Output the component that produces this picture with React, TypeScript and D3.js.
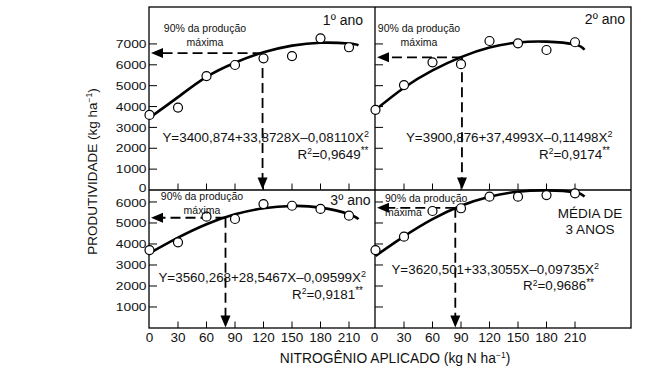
import React from "react";
import * as d3 from "d3";

// ---------- data ----------
const nRates = [0, 30, 60, 90, 120, 150, 180, 210];
const year1Yield = [3600, 3950, 5460, 5990, 6310, 6420, 7270, 6840];
const year2Yield = [3840, 5030, 6120, 6030, 7140, 7030, 6710, 7080];
const year3Yield = [3710, 4080, 5300, 5190, 5900, 5820, 5670, 5350];
const meanYield = [3710, 4350, 5570, 5700, 6250, 6250, 6330, 6410];

const curveN = [0, 30, 60, 90, 120, 150, 180, 210, 220];
const year1Curve = [3460, 4450, 5420, 6100, 6600, 6920, 7060, 7020, 6940];
const year2Curve = [3840, 4900, 5730, 6370, 6830, 7070, 7110, 6970, 6720];
const year3Curve = [3560, 4300, 4940, 5410, 5700, 5810, 5730, 5420, 5180];
const meanCurve = [3430, 4360, 5180, 5820, 6250, 6490, 6550, 6460, 6250];

const arrowN = [119, 91, 80, 84];
const arrowYield = [6560, 6360, 5250, 5720];

const equations = [
  "Y=3400,874+33,8728X–0,08110X",
  "Y=3900,876+37,4993X–0,11498X",
  "Y=3560,268+28,5467X–0,09599X",
  "Y=3620,501+33,3055X–0,09735X",
];
const r2Values = ["=0,9649", "=0,9174", "=0,9181", "=0,9686"];
const panelTitles = [["1º ano"], ["2º ano"], ["3º ano"], ["MÉDIA DE", "3 ANOS"]];
const noteLines = ["90% da produção", "máxima"];
const xTicks = [0, 30, 60, 90, 120, 150, 180, 210];
const yTicksTop = [0, 1000, 2000, 3000, 4000, 5000, 6000, 7000];
const yTicksBottom = [1000, 2000, 3000, 4000, 5000, 6000];
const yTitle = "PRODUTIVIDADE (kg ha";
const xTitle = "NITROGÊNIO APLICADO (kg N ha";

// ---------- layout ----------
const W = 647;
const H = 368;
const FONT = "'Liberation Sans', Arial, Helvetica, sans-serif";
const L = 149, M = 375, R = 631, T = 7, MID = 190, B = 328;

const colCfg = [
  { x0: 149.5, x1: 375, max: (375 - 149.5) / 0.95 },
  { x0: 375.5, x1: 631, max: (631 - 375.5) / 0.95 },
];
const rowCfg = [
  { y0: 190, y1: 7, max: 8770 },
  { y0: 328, y1: 190, max: 6570 },
];

const layout = [
  { col: 0, row: 0, eqX: 369, eqY: 142, r2X: 368.5, r2Y: 158, noteX: 205, noteY: 32, noteAnchor: "middle", titleX: 363, titleY: 25, titleAnchor: "end" },
  { col: 1, row: 0, eqX: 612.5, eqY: 142, r2X: 610, r2Y: 158, noteX: 419, noteY: 32, noteAnchor: "middle", titleX: 625, titleY: 24, titleAnchor: "end" },
  { col: 0, row: 1, eqX: 366, eqY: 282, r2X: 363, r2Y: 298, noteX: 202, noteY: 200, noteAnchor: "middle", titleX: 370.5, titleY: 205, titleAnchor: "end" },
  { col: 1, row: 1, eqX: 599, eqY: 273.5, r2X: 594, r2Y: 289.5, noteX: 385, noteY: 201.5, noteAnchor: "start", titleX: 590, titleY: 218, titleAnchor: "middle" },
];

const obsSeries = [year1Yield, year2Yield, year3Yield, meanYield];
const fitSeries = [year1Curve, year2Curve, year3Curve, meanCurve];

function Panel({ i }: { i: number }) {
  const lay = layout[i];
  const c = colCfg[lay.col];
  const r = rowCfg[lay.row];
  const x = d3.scaleLinear().domain([0, c.max]).range([c.x0, c.x1]);
  const y = d3.scaleLinear().domain([0, r.max]).range([r.y0, r.y1]);
  const line = d3
    .line<number>()
    .x((_, k) => x(curveN[k]))
    .y((d) => y(d))
    .curve(d3.curveNatural);
  const yTicks = lay.row === 0 ? yTicksTop.filter((t) => t > 0) : yTicksBottom;
  const axisX = lay.col === 0 ? L : M;
  const ax = x(arrowN[i]);
  const ay = y(arrowYield[i]);
  const tipX = axisX + 2;
  const tipY = r.y0 - 0.5;
  const ah = 12, aw = 5;
  return (
    <g>
      {yTicks.map((t) => (
        <line key={"yt" + t} x1={axisX} x2={axisX + 8} y1={y(t)} y2={y(t)} stroke="#000" strokeWidth={1} />
      ))}
      {xTicks.filter((t) => t > 0).map((t) => (
        <line key={"xt" + t} x1={x(t)} x2={x(t)} y1={r.y0} y2={r.y0 - 6.5} stroke="#000" strokeWidth={1} />
      ))}
      <line x1={ax} y1={ay} x2={tipX + ah - 1} y2={ay} stroke="#000" strokeWidth={1.8} strokeDasharray="10,5" />
      <line x1={ax} y1={ay} x2={ax} y2={tipY - ah + 1} stroke="#000" strokeWidth={1.8} strokeDasharray="10,5" />
      <path d={`M${tipX},${ay} L${tipX + ah},${ay - aw} L${tipX + ah},${ay + aw} Z`} fill="#000" />
      <path d={`M${ax},${tipY} L${ax - aw},${tipY - ah} L${ax + aw},${tipY - ah} Z`} fill="#000" />
      <path d={line(fitSeries[i]) || ""} fill="none" stroke="#000" strokeWidth={2.6} />
      {obsSeries[i].map((v, k) => (
        <circle key={"c" + k} cx={x(nRates[k])} cy={y(v)} r={4.5} fill="#fff" stroke="#000" strokeWidth={1.2} />
      ))}
      <text fontFamily={FONT} fontSize={10.5} fill="#111" textAnchor={lay.noteAnchor as any}>
        <tspan x={lay.noteX} y={lay.noteY}>{noteLines[0]}</tspan>
        <tspan x={lay.noteX} y={lay.noteY + 14}>{noteLines[1]}</tspan>
      </text>
      <text fontFamily={FONT} fontSize={i === 3 ? 13.5 : 14} fill="#111" textAnchor={lay.titleAnchor as any}>
        {panelTitles[i].map((s, k) => (
          <tspan key={k} x={lay.titleX} y={lay.titleY + k * 16}>{s}</tspan>
        ))}
      </text>
      <text x={lay.eqX} y={lay.eqY} fontFamily={FONT} fontSize={13.4} fill="#111" textAnchor="end">
        {equations[i]}
        <tspan dy={-5} fontSize={9}>2</tspan>
      </text>
      <text x={lay.r2X} y={lay.r2Y + 0.5} fontFamily={FONT} fontSize={13.4} fill="#111" textAnchor="end">
        R<tspan dy={-4.5} fontSize={8.5}>2</tspan>
        <tspan dy={4.5}>{r2Values[i]}</tspan>
        <tspan dy={-4.5} fontSize={10}>**</tspan>
      </text>
    </g>
  );
}

export default function App() {
  const yTop = d3.scaleLinear().domain([0, rowCfg[0].max]).range([rowCfg[0].y0, rowCfg[0].y1]);
  const yBot = d3.scaleLinear().domain([0, rowCfg[1].max]).range([rowCfg[1].y0, rowCfg[1].y1]);
  const xs = colCfg.map((c) => d3.scaleLinear().domain([0, c.max]).range([c.x0, c.x1]));
  return (
    <svg width={W} height={H} style={{ position: "absolute", left: 0, top: 0, background: "#fff" }}>
      <rect x={0} y={0} width={W} height={H} fill="#fff" />
      <rect x={L} y={T} width={R - L} height={B - T} fill="none" stroke="#000" strokeWidth={1.3} />
      <line x1={M} x2={M} y1={T} y2={B} stroke="#000" strokeWidth={1.3} />
      <line x1={L} x2={R} y1={MID} y2={MID} stroke="#000" strokeWidth={1.3} />
      {[0, 1, 2, 3].map((i) => (
        <Panel key={i} i={i} />
      ))}
      {yTicksTop.map((t) => (
        <text key={"yl" + t} transform={`translate(146.5,${yTop(t) - (t === 0 ? 2 : 0)}) scale(1.2,1)`} dy="0.36em" fontFamily={FONT} fontSize={11.5} fill="#111" textAnchor="end">
          {t}
        </text>
      ))}
      {yTicksBottom.map((t) => (
        <text key={"yb" + t} transform={`translate(146.5,${yBot(t) + (t === 6000 ? 0.5 : 0)}) scale(1.2,1)`} dy="0.36em" fontFamily={FONT} fontSize={11.5} fill="#111" textAnchor="end">
          {t}
        </text>
      ))}
      {xs.map((xsc, c) =>
        xTicks.map((t) => (
          <text key={"xl" + c + t} x={xsc(t) - (c === 1 && t === 0 ? 1 : 0)} y={342} fontFamily={FONT} fontSize={13.5} fill="#111" textAnchor="middle">
            {t}
          </text>
        ))
      )}
      <text x={395} y={363} fontFamily={FONT} fontSize={13.8} fill="#111" textAnchor="middle">
        {xTitle}
        <tspan dy={-5} fontSize={8.5}>−1</tspan>
        <tspan dy={5}>)</tspan>
      </text>
      <text transform="translate(97,171.5) rotate(-90)" fontFamily={FONT} fontSize={13.5} fill="#111" textAnchor="middle">
        {yTitle}
        <tspan dy={-5} fontSize={8.5}>−1</tspan>
        <tspan dy={5}>)</tspan>
      </text>
    </svg>
  );
}
